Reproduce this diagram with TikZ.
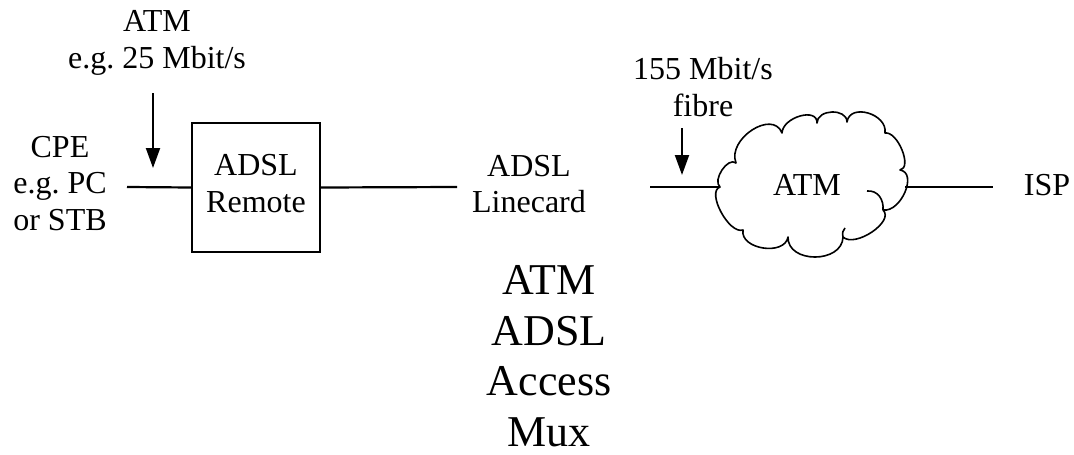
\documentclass[tikz,border=0pt]{standalone}
\usepackage{fontspec}
\setmainfont{Liberation Serif}
\usetikzlibrary{arrows.meta}
\frenchspacing
\begin{document}
\begin{tikzpicture}[x=1pt,y=-1pt,
  lbl/.style={align=center,inner sep=0pt,font=\frenchspacing\fontsize{32}{36.5}\selectfont},
  biglbl/.style={align=center,inner sep=0pt,font=\fontsize{44}{50.5}\selectfont},
  wire/.style={line width=2.2pt},
  feed/.style={line width=2pt,-{Triangle[length=20pt,width=14pt]}},
  boxstyle/.style={draw,line width=2.2pt,minimum width=128pt,minimum height=129pt,inner sep=0pt},
  cloudline/.style={line width=1.6pt,line join=round}]
\useasboundingbox (0,0) rectangle (1074,455);
% labels
\node[lbl] (toplbl) at (157,43) {ATM\\e.g.\ 25 Mbit/s};
\node[lbl] (cpe) at (60,183.5) {CPE\\e.g.\ PC\\or STB};
\node[boxstyle] (remote) at (256,187.5) {};
\node[lbl] (remotetext) at (256,183.5) {ADSL\\Remote};
\node[lbl] (linecard) at (529,184) {ADSL\\Linecard};
\node[lbl] (fibre) at (703,87) {155 Mbit/s\\fibre};
\node[lbl] (isp) at (1047,185) {ISP};
\node[biglbl] (mux) at (549,356) {ATM\\ADSL\\Access\\Mux};
% cloud
\draw[cloudline] (720,187)
  .. controls (712,180.3) and (728,156.3) .. (736,163)
  .. controls (726.7,139) and (772.7,109) .. (782,133)
  .. controls (782.7,117) and (817.7,107) .. (817,123)
  .. controls (817,109) and (847,108) .. (847,122)
  .. controls (849.7,102.7) and (887.7,113.7) .. (885,133)
  .. controls (897.7,131) and (912.7,168) .. (900,170)
  .. controls (918,172.7) and (901,212.7) .. (883,210)
  .. controls (895,221.3) and (855,248.3) .. (843,237)
  .. controls (842.3,263.7) and (787.3,263.7) .. (788,237)
  .. controls (784.7,256.3) and (739.7,249.3) .. (743,230)
  .. controls (729,234.7) and (706,191.7) .. (720,187) -- cycle;
\draw[cloudline] (867,191) .. controls (878,190) and (884,200) .. (883,210);
\draw[cloudline] (843,237) .. controls (842,233) and (843,230) .. (845,228);
\node[lbl] (cloud) at (807,185) {ATM};
\coordinate (cloudW) at (720,187);
\coordinate (cloudE) at (905,187);
% wire ends
\coordinate (cpeEnd) at (127,187);
\coordinate (lcIn) at (457,187);
\coordinate (lcOut) at (650,187);
\coordinate (ispEnd) at (993,187);
\coordinate (arrA0) at (153,93);
\coordinate (arrA1) at (153,168);
\coordinate (arrB0) at (682,128);
\coordinate (arrB1) at (682,175);
% connectors
\draw[wire] (cpeEnd) -- (remote.west);
\draw[wire] (remote.east) -- (lcIn);
\draw[wire] (lcOut) -- (cloudW);
\draw[wire] (cloudE) -- (ispEnd);
\draw[feed] (arrA0) -- (arrA1);
\draw[feed] (arrB0) -- (arrB1);
\end{tikzpicture}
\end{document}
